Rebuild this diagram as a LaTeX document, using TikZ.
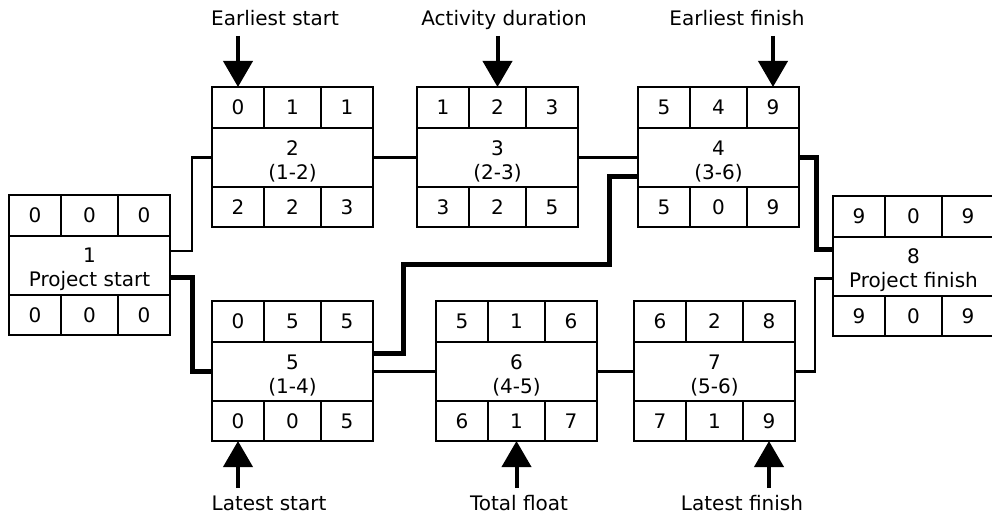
\documentclass[tikz,border=0pt]{standalone}
\usepackage{fontspec}
\setmainfont{DejaVu Sans}
\usetikzlibrary{arrows.meta}

\tikzset{
  cell/.style={draw, line width=2.7pt, inner sep=0pt, outer sep=0pt, anchor=north west,
    font=\fontsize{20}{24}\selectfont},
  sidecell/.style={cell, minimum width=52pt},
  midcol/.style={cell, minimum width=57pt},
  toprow/.style={minimum height=41pt},
  botrow/.style={minimum height=40pt},
  midbox/.style={cell, minimum width=161pt, minimum height=59pt, align=center,
    font=\fontsize{20}{24}\selectfont},
  link/.style={line width=2.2pt, line join=miter},
  crit/.style={line width=5pt, line join=miter},
  callout/.style={line width=4pt, -{Triangle[width=29pt,length=26pt]}},
  lbl/.style={inner sep=0pt, font=\fontsize{20}{24}\selectfont, anchor=base},
}

\newcommand{\pertbox}[9]{%
  \begin{scope}[shift={(#2)}]
    \node[sidecell,toprow] (#1t1) at (0,0) {#3};
    \node[midcol,toprow] (#1t2) at (52,0) {#4};
    \node[sidecell,toprow] (#1t3) at (109,0) {#5};
    \node[midbox] (#1) at (0,41) {\rule{0pt}{23pt}#6};
    \node[sidecell,botrow] (#1b1) at (0,100) {#7};
    \node[midcol,botrow] (#1b2) at (52,100) {#8};
    \node[sidecell,botrow] (#1b3) at (109,100) {#9};
  \end{scope}%
}

\begin{document}
\begin{tikzpicture}[x=1pt,y=-1pt]
  \useasboundingbox (0,0) rectangle (992,516);

  % activity boxes
  \pertbox{n1}{9,195}{0}{0}{0}{1\\Project start}{0}{0}{0}
  \pertbox{n2}{212,87}{0}{1}{1}{2\\(1-2)}{2}{2}{3}
  \pertbox{n3}{417,87}{1}{2}{3}{3\\(2-3)}{3}{2}{5}
  \pertbox{n4}{638,87}{5}{4}{9}{4\\(3-6)}{5}{0}{9}
  \pertbox{n5}{212,301}{0}{5}{5}{5\\(1-4)}{0}{0}{5}
  \pertbox{n6}{436,301}{5}{1}{6}{6\\(4-5)}{6}{1}{7}
  \pertbox{n7}{634,301}{6}{2}{8}{7\\(5-6)}{7}{1}{9}
  \pertbox{n8}{833,196}{9}{0}{9}{8\\Project finish}{9}{0}{9}

  % ordinary links
  \draw[link] ([yshift=14.5pt]n1.east) -- ++(22,0) |- (n2.west);
  \draw[link] (n2.east) -- (n3.west);
  \draw[link] (n3.east) -- (n4.west);
  \draw[link] (n5.east) -- (n6.west);
  \draw[link] (n6.east) -- (n7.west);
  \draw[link] (n7.east) -- ++(20,0) |- ([yshift=-12pt]n8.west);

  % critical path
  \draw[crit] ([yshift=-11.5pt]n1.east) -- ++(22,0) |- (n5.west);
  \draw[crit] ([yshift=18.5pt]n5.east) -- ++(30,0) -- ++(0,-89) -- ++(206,0)
     |- ([yshift=-18.5pt]n4.west);
  \draw[crit] (n4.east) -- ++(17,0) |- ([yshift=17pt]n8.west);

  % labels
  \node[lbl] (les) at (275,26) {Earliest start};
  \node[lbl] (lad) at (504,26) {Activity duration};
  \node[lbl] (lef) at (737,26) {Earliest finish};
  \node[lbl] (lls) at (269,510) {Latest start};
  \node[lbl] (ltf) at (519,510) {Total float};
  \node[lbl] (llf) at (742,510) {Latest finish};

  % callout arrows
  \coordinate (tes) at (n2t1.north |- 0,36);
  \coordinate (tad) at (n3t2.north |- 0,36);
  \coordinate (tef) at (n4t3.north |- 0,36);
  \coordinate (tls) at (n5b1.south |- 0,488);
  \coordinate (ttf) at (n6b2.south |- 0,488);
  \coordinate (tlf) at (n7b3.south |- 0,488);
  \draw[callout] (tes) -- (n2t1.north);
  \draw[callout] (tad) -- (n3t2.north);
  \draw[callout] (tef) -- (n4t3.north);
  \draw[callout] (tls) -- (n5b1.south);
  \draw[callout] (ttf) -- (n6b2.south);
  \draw[callout] (tlf) -- (n7b3.south);
\end{tikzpicture}
\end{document}
